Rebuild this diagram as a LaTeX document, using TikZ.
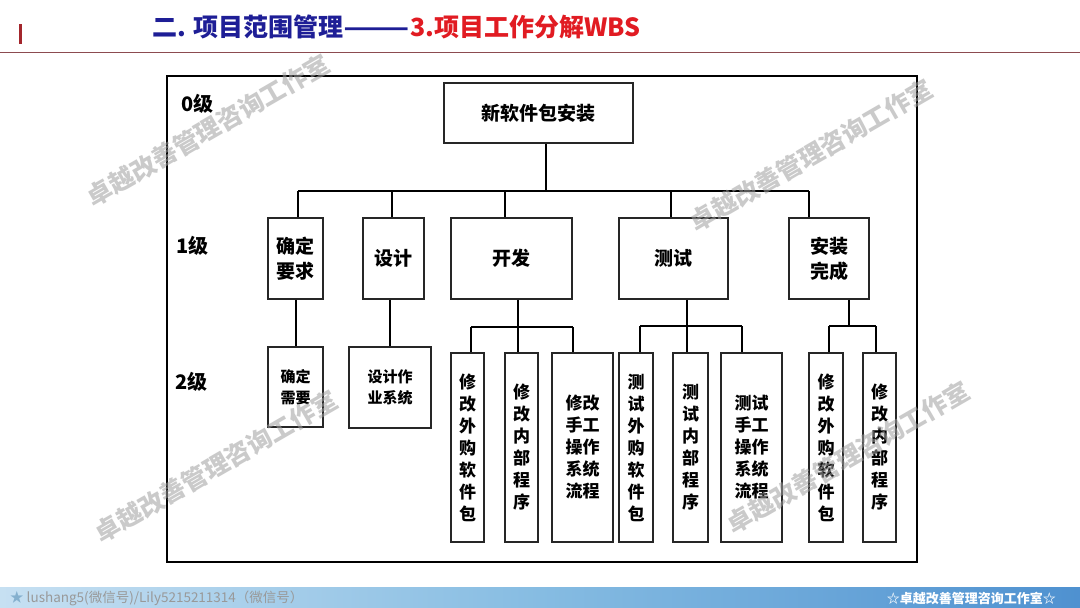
\documentclass[tikz,border=0pt]{standalone}
\usepackage{fontspec}
\setmainfont{Noto Sans CJK SC}
\definecolor{titleblue}{HTML}{1E1E96}
\definecolor{titlered}{HTML}{E11B22}
\definecolor{sepline}{HTML}{8C4B50}
\definecolor{barred}{HTML}{A3262C}
\definecolor{fa}{HTML}{A8D0EC}
\definecolor{fb}{HTML}{E6F2FA}
\definecolor{fc}{HTML}{EAF4FB}
\definecolor{fd}{HTML}{86BCE2}
\definecolor{fe}{HTML}{1766BE}
\pgfdeclarehorizontalshading{footershade}{100bp}{color(0bp)=(fa); color(4bp)=(fb); color(11bp)=(fc); color(50bp)=(fd); color(100bp)=(fe)}
\tikzset{
  box/.style={draw=black!85, line width=1.2pt, fill=white, inner sep=0pt, align=center},
  lone/.style={box, font=\bfseries\fontsize{19}{25}\selectfont},
  ltwo/.style={box, font=\bfseries\fontsize{15}{21}\selectfont},
  vbox/.style={box, font=\bfseries\fontsize{17}{22}\selectfont, minimum height=189pt},
  conn/.style={line width=2pt, black},
  lvl/.style={anchor=west, inner sep=0pt, font=\bfseries\fontsize{20}{24}\selectfont},
  wm/.style={rotate=30, text=gray!75, opacity=0.55, inner sep=0pt, font=\bfseries\fontsize{25}{25}\selectfont}
}
\begin{document}
\begin{tikzpicture}[x=1pt,y=-1pt]
\useasboundingbox (0,0) rectangle (1080,608);
\fill[white] (0,0) rectangle (1080,608);
% header
\fill[barred] (19,24) rectangle (21.5,44);
\draw[sepline, line width=1.6pt] (0,52.5) -- (1080,52.5);
\node[anchor=west, inner sep=0pt, font=\bfseries\fontsize{25}{27}\selectfont] (title) at (152,27)
  {\textcolor{titleblue}{二. 项目范围管理\scalebox{1.55}[1]{——}}\textcolor{titlered}{3.项目工作分解WBS}};
% footer
\shade[shading=footershade] (0,587) rectangle (1080,608);
\node[anchor=west, inner sep=0pt, text=gray!80, font=\fontsize{13.5}{15}\selectfont] (fl) at (10,598)
  {\textcolor{fd!80!gray}{★} lushang5(微信号)/Lily5215211314（微信号）};
\node[anchor=east, inner sep=0pt, text=white, font=\bfseries\fontsize{13}{15}\selectfont] (fr) at (1056,598)
  {☆卓越改善管理咨询工作室☆};
% frame
\draw[black, line width=1.3pt] (167,76) rectangle (917,562);
% level labels
\node[lvl] (l0) at (181,104) {0级};
\node[lvl] (l1) at (176,246) {1级};
\node[lvl] (l2) at (175,382) {2级};
% root
\node[box, font=\bfseries\fontsize{19}{24}\selectfont, minimum width=189pt, minimum height=60pt] (root) at (538.5,113) {新软件包安装};
% level 1
\node[lone, minimum width=55pt, minimum height=81pt] (a) at (295.5,258.5) {确定\\要求};
\node[lone, minimum width=61pt, minimum height=81pt] (b) at (393.5,258.5) {设计};
\node[lone, minimum width=121pt, minimum height=81pt] (c) at (511.5,258.5) {开发};
\node[lone, minimum width=109pt, minimum height=81pt] (d) at (673.5,258.5) {测试};
\node[lone, minimum width=80pt, minimum height=81pt] (e) at (829,258.5) {安装\\完成};
% level 2
\node[ltwo, minimum width=55pt, minimum height=80pt] (a1) at (295.5,387) {确定\\需要};
\node[ltwo, minimum width=82pt, minimum height=81pt] (b1) at (390,387.5) {设计作\\业系统};
\node[vbox, minimum width=33pt] (c1) at (467.5,447.5) {修\\改\\外\\购\\软\\件\\包};
\node[vbox, minimum width=33pt] (c2) at (521.5,447.5) {修\\改\\内\\部\\程\\序};
\node[vbox, minimum width=61pt] (c3) at (582.5,447.5) {修改\\手工\\操作\\系统\\流程};
\node[vbox, minimum width=34pt] (d1) at (636,447.5) {测\\试\\外\\购\\软\\件\\包};
\node[vbox, minimum width=35pt] (d2) at (690.5,447.5) {测\\试\\内\\部\\程\\序};
\node[vbox, minimum width=61pt] (d3) at (751.5,447.5) {测试\\手工\\操作\\系统\\流程};
\node[vbox, minimum width=34pt] (e1) at (826,447.5) {修\\改\\外\\购\\软\\件\\包};
\node[vbox, minimum width=33pt] (e2) at (879.5,447.5) {修\\改\\内\\部\\程\\序};
% junctions
\coordinate (j0) at (546,191);
\coordinate (ja) at (298,191);
\coordinate (jb) at (392,191);
\coordinate (jc) at (505,191);
\coordinate (jd) at (671,191);
\coordinate (je) at (809,191);
\coordinate (kc) at (518,327);
\coordinate (kc1) at (471,327);
\coordinate (kc3) at (573,327);
\coordinate (kd) at (687,326);
\coordinate (kd1) at (640,326);
\coordinate (kd3) at (742,326);
\coordinate (ke) at (849,326);
\coordinate (ke1) at (829,326);
\coordinate (ke2) at (876,326);
% connectors level 0-1
\draw[conn] (j0 |- root.south) -- (j0);
\draw[conn] (ja) -- (je);
\foreach \j/\n in {ja/a, jb/b, jc/c, jd/d, je/e} \draw[conn] (\j) -- (\j |- \n.north);
% level 1-2
\draw[conn] (a.south -| 296,0) -- (a1.north -| 296,0);
\draw[conn] (b.south -| b1.north) -- (b1.north);
\draw[conn] (kc |- c.south) -- (kc);
\draw[conn] (kc1) -- (kc3);
\foreach \j/\n in {kc1/c1, kc/c2, kc3/c3} \draw[conn] (\j) -- (\j |- \n.north);
\draw[conn] (kd |- d.south) -- (kd);
\draw[conn] (kd1) -- (kd3);
\foreach \j/\n in {kd1/d1, kd/d2, kd3/d3} \draw[conn] (\j) -- (\j |- \n.north);
\draw[conn] (ke |- e.south) -- (ke);
\draw[conn] (ke1) -- (ke2);
\foreach \j/\n in {ke1/e1, ke2/e2} \draw[conn] (\j) -- (\j |- \n.north);
% watermarks
\node[wm] (w1) at (208,130) {卓越改善管理咨询工作室};
\node[wm] (w2) at (811,155) {卓越改善管理咨询工作室};
\node[wm] (w3) at (216,466) {卓越改善管理咨询工作室};
\node[wm] (w4) at (848,457) {卓越改善管理咨询工作室};
\end{tikzpicture}
\end{document}
